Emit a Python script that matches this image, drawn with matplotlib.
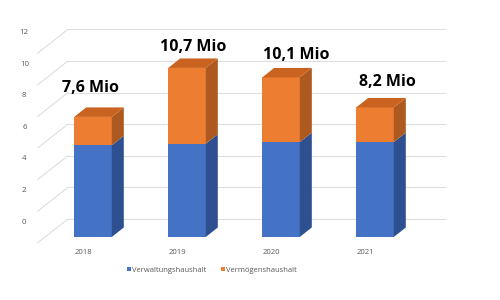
import matplotlib
matplotlib.use("Agg")
import matplotlib.pyplot as plt
from matplotlib.patches import Polygon
import numpy as np

plt.rcParams['font.family'] = ['Open Sans', 'DejaVu Sans']

# Haushaltsvolumen je Jahr (Mio), aufgeteilt in Verwaltungs- und Vermögenshaushalt
years = ['2018', '2019', '2020', '2021']
verwaltung = [5.8, 5.9, 6.0, 6.0]
vermoegen = [1.8, 4.8, 4.1, 2.2]
total_labels = ['7,6 Mio', '10,7 Mio', '10,1 Mio', '8,2 Mio']
y_ticks = [0, 2, 4, 6, 8, 10, 12]
series_names = ['Verwaltungshaushalt', 'Vermögenshaushalt']

# colours: front, side, top
blue = ('#4472C4', '#2E5090', '#3A63AE')
orange = ('#ED7D31', '#AD5920', '#C9631F')
grid_col = '#DEDEDE'
text_col = '#595959'

# fake 3D: one depth unit moves a point right and up (in data units)
DX, DY = 0.128, 0.60
WALL_Z, FRONT_Z = 1.9, -0.6
WALL_X0, WALL_X1 = -0.51, 3.5
bar_w = 0.40


def proj(x, v, z):
    return x + z * DX, v + z * DY


fig = plt.figure(figsize=(5, 3), dpi=100)
ax = fig.add_axes([0, 0, 1, 1])
ax.set_xlim(-0.989, 4.33)
ax.set_ylim(-3.99, 15.0)
ax.axis('off')

# back wall gridlines, side wall diagonals and value labels
for v in y_ticks:
    xa, va = proj(WALL_X0, v, WALL_Z)
    xb, vb = proj(WALL_X1, v, WALL_Z)
    ax.plot([xa, xb], [va, vb], color=grid_col, lw=0.8, zorder=1)
    xf, vf = proj(WALL_X0, v, FRONT_Z)
    ax.plot([xf, xa], [vf, va], color=grid_col, lw=0.8, zorder=1)
    ax.text(-0.73, va - 0.2, str(v), ha='center', va='center',
            fontsize=5.7, color=text_col)

x = np.arange(len(years))


def draw_block(xc, lo, hi, cols, top, label=None):
    ax.bar(xc, hi - lo, bottom=lo, width=bar_w, color=cols[0], zorder=3,
           label=label, linewidth=0)
    r = xc + bar_w / 2
    side = Polygon([(r, lo), (r, hi), proj(r, hi, 1), proj(r, lo, 1)],
                   closed=True, facecolor=cols[1], edgecolor='none', zorder=3)
    ax.add_patch(side)
    if top:
        l = xc - bar_w / 2
        tp = Polygon([(l, hi), (r, hi), proj(r, hi, 1), proj(l, hi, 1)],
                     closed=True, facecolor=cols[2], edgecolor='none', zorder=3)
        ax.add_patch(tp)


label_dx = [-0.03, 0.07, 0.16, 0.13]
label_dv = [1.85, 1.35, 1.4, 1.6]
for i in x:
    b = verwaltung[i]
    t = verwaltung[i] + vermoegen[i]
    draw_block(i, 0, b, blue, False, series_names[0] if i == 0 else None)
    draw_block(i, b, t, orange, True, series_names[1] if i == 0 else None)
    ax.text(i + label_dx[i], t + label_dv[i], total_labels[i], ha='center',
            va='center', fontsize=11.5, fontweight='bold', color='black')
    ax.text(i - 0.106, -1.0, years[i], ha='center', va='center',
            fontsize=5.6, color=text_col)

ax.legend(loc='center', bbox_to_anchor=(0.424, 0.1), ncol=2, frameon=False,
          fontsize=5.5, labelcolor=text_col, handlelength=0.5, handleheight=0.5,
          handletextpad=0.15, columnspacing=2.0)

fig.savefig('out.png', dpi=100)
